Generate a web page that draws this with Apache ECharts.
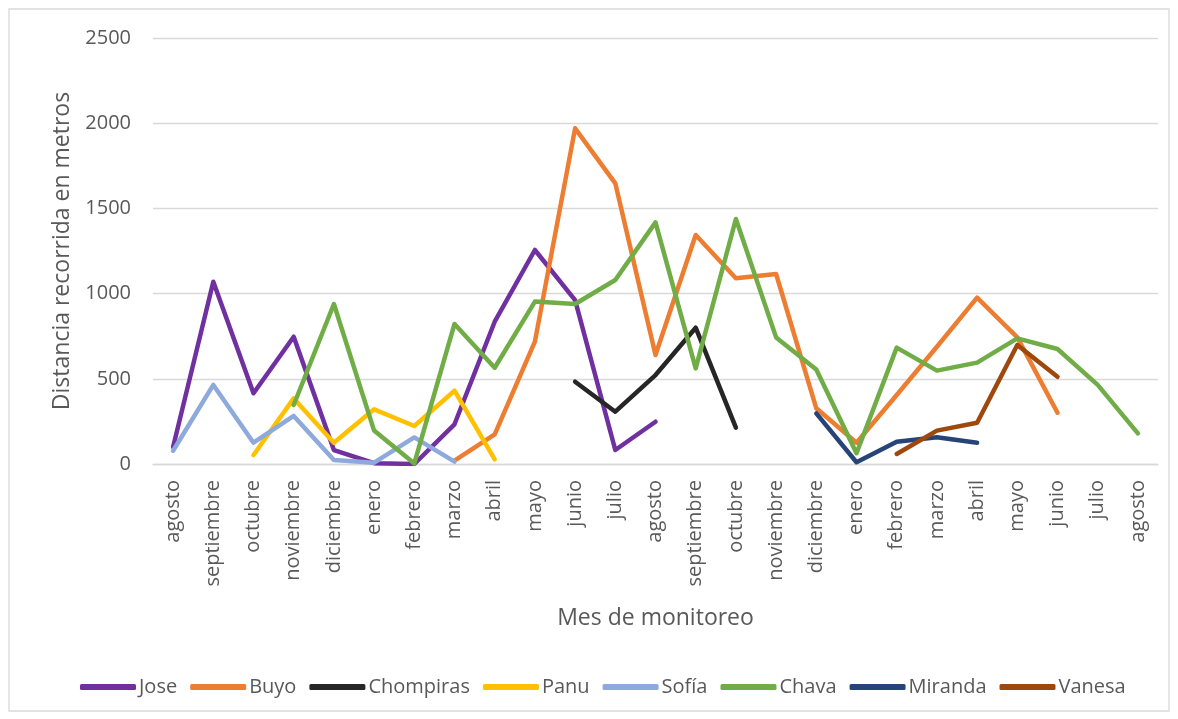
<!DOCTYPE html>
<html>
<head>
<meta charset="utf-8">
<script src="https://cdn.jsdelivr.net/npm/echarts@6/dist/echarts.min.js"></script>
<style>
  html, body { margin: 0; padding: 0; background: #ffffff; }
  #chart { width: 1178px; height: 719px; }
</style>
</head>
<body>
<div id="chart"></div>
<script>
// Meses de monitoreo (eje X)
const meses = ['agosto','septiembre','octubre','noviembre','diciembre','enero','febrero','marzo','abril','mayo','junio','julio',
               'agosto','septiembre','octubre','noviembre','diciembre','enero','febrero','marzo','abril','mayo','junio','julio','agosto'];

// Distancia recorrida (m) por individuo; null = sin monitoreo ese mes
const jose      = [100, 1070, 415, 747, 82, 5, 0, 233, 835, 1256, 962, 82, 248, null, null, null, null, null, null, null, null, null, null, null, null];
const buyo      = [null, null, null, null, null, null, null, 20, 174, 718, 1970, 1647, 640, 1344, 1090, 1115, 327, 125, 405, 688, 976, 743, 301, null, null];
const chompiras = [null, null, null, null, null, null, null, null, null, null, 483, 307, 522, 800, 213, null, null, null, null, null, null, null, null, null, null];
const panu      = [null, null, 53, 385, 125, 321, 223, 430, 27, null, null, null, null, null, null, null, null, null, null, null, null, null, null, null, null];
const sofia     = [78, 464, 125, 282, 23, 8, 156, 14, null, null, null, null, null, null, null, null, null, null, null, null, null, null, null, null, null];
const chava     = [null, null, null, 346, 939, 196, 3, 822, 565, 953, 939, 1080, 1418, 561, 1438, 743, 555, 63, 683, 548, 595, 737, 675, 464, 180];
const miranda   = [null, null, null, null, null, null, null, null, null, null, null, null, null, null, null, null, 297, 10, 131, 157, 125, null, null, null, null];
const vanesa    = [null, null, null, null, null, null, null, null, null, null, null, null, null, null, null, null, null, null, 59, 196, 242, 698, 512, null, null];

// Marcas del eje Y
const yMin = 0, yMax = 2500, yStep = 500;

const individuos = [
  { name: 'Jose',      data: jose,      color: '#7030A0' },
  { name: 'Buyo',      data: buyo,      color: '#ED7D31' },
  { name: 'Chompiras', data: chompiras, color: '#262626' },
  { name: 'Panu',      data: panu,      color: '#FFC000' },
  { name: 'Sofía',     data: sofia,     color: '#8EA9DB' },
  { name: 'Chava',     data: chava,     color: '#70AD47' },
  { name: 'Miranda',   data: miranda,   color: '#264478' },
  { name: 'Vanesa',    data: vanesa,    color: '#9E480E' }
];

const FONT = '"Open Sans", "Noto Sans", sans-serif';
const TXT = '#595959';

const chart = echarts.init(document.getElementById('chart'), null, { renderer: 'canvas' });

chart.setOption({
  animation: false,
  backgroundColor: '#ffffff',
  graphic: [{
    type: 'rect',
    shape: { x: 9, y: 9, width: 1160, height: 702 },
    style: { fill: 'none', stroke: '#d9d9d9', lineWidth: 1.3 },
    silent: true
  }],
  grid: { left: 153, right: 20, top: 38, bottom: 255, containLabel: false },
  legend: {
    bottom: 17,
    left: 75,
    itemWidth: 56,
    itemHeight: 6,
    itemGap: 13,
    icon: 'roundRect',
    textStyle: { fontFamily: FONT, fontSize: 20, color: TXT, padding: [0, 0, 0, -2] },
    data: individuos.map(s => s.name)
  },
  xAxis: {
    type: 'category',
    data: meses,
    boundaryGap: true,
    axisLine: { show: true, lineStyle: { color: '#d9d9d9', width: 1.3 } },
    axisTick: { show: false },
    axisLabel: {
      rotate: 90,
      interval: 0,
      margin: 16,
      fontFamily: FONT,
      fontSize: 20,
      color: TXT
    },
    name: 'Mes de monitoreo',
    nameLocation: 'middle',
    nameGap: 143,
    nameTextStyle: { fontFamily: FONT, fontSize: 23, color: TXT }
  },
  yAxis: {
    type: 'value',
    min: yMin,
    max: yMax,
    interval: yStep,
    axisLine: { show: false },
    axisTick: { show: false },
    splitLine: { lineStyle: { color: '#d9d9d9', width: 1.3 } },
    axisLabel: { margin: 22, fontFamily: FONT, fontSize: 20, color: TXT, formatter: v => String(v) },
    name: 'Distancia recorrida en metros',
    nameLocation: 'middle',
    nameGap: 77,
    nameRotate: 90,
    nameTextStyle: { fontFamily: FONT, fontSize: 23, color: TXT }
  },
  series: individuos.map(s => ({
    name: s.name,
    type: 'line',
    data: s.data,
    connectNulls: false,
    showSymbol: false,
    symbol: 'none',
    smooth: false,
    color: s.color,
    lineStyle: { color: s.color, width: 4.5, cap: 'round', join: 'round' },
    itemStyle: { color: s.color }
  }))
});
</script>
</body>
</html>
